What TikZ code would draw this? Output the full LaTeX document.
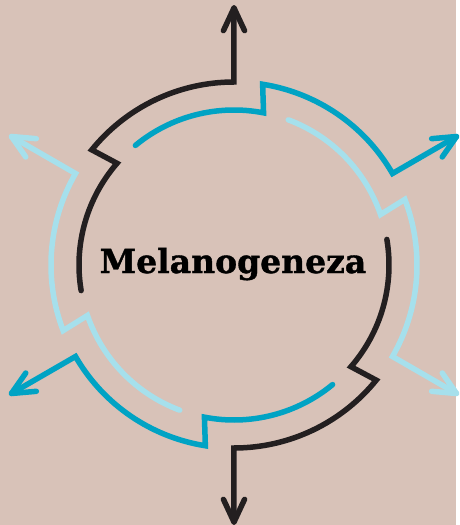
\documentclass[tikz,border=0pt]{standalone}
\usepackage{fontspec}
\setmainfont{DejaVu Serif}
\newfontfamily\titlefont{DejaVu Serif Bold}[FakeBold=1.2]
\usetikzlibrary{calc}
\definecolor{skinbg}{HTML}{D8C2B8}
\definecolor{ringdark}{HTML}{231F20}
\definecolor{ringteal}{HTML}{00A3C4}
\definecolor{ringlight}{HTML}{A6E0EC}

\begin{document}
\begin{tikzpicture}[x=1pt, y=1pt,
    ring/.style={line width=5.5pt, line cap=round}]
    %Background
    \fill[skinbg] (-234,-260) rectangle (222,265);

    %Title
    \node[anchor=base, inner sep=0pt, font=\titlefont\fontsize{33}{40}\selectfont] (title) at (-1,-8) {Melanogeneza};

    %Ring pieces (arrow, outer arc, step, inner arc)
    \foreach \ang/\col in {30/ringteal, 90/ringdark, 150/ringlight, 210/ringteal, 270/ringdark, 330/ringlight}{
        \coordinate (tip) at (\ang:257);
        \draw[ring, \col] (tip) -- (\ang:183) arc[start angle=\ang, end angle=\ang+51, radius=183]
            -- ({\ang+49}:155) arc[start angle=\ang+49, end angle=\ang+99.5, radius=155];
        \draw[ring, \col, line join=round] ($(tip)+({\ang+155}:25)$) -- (tip) -- ($(tip)+({\ang-155}:25)$);
    }
\end{tikzpicture}
\end{document}
